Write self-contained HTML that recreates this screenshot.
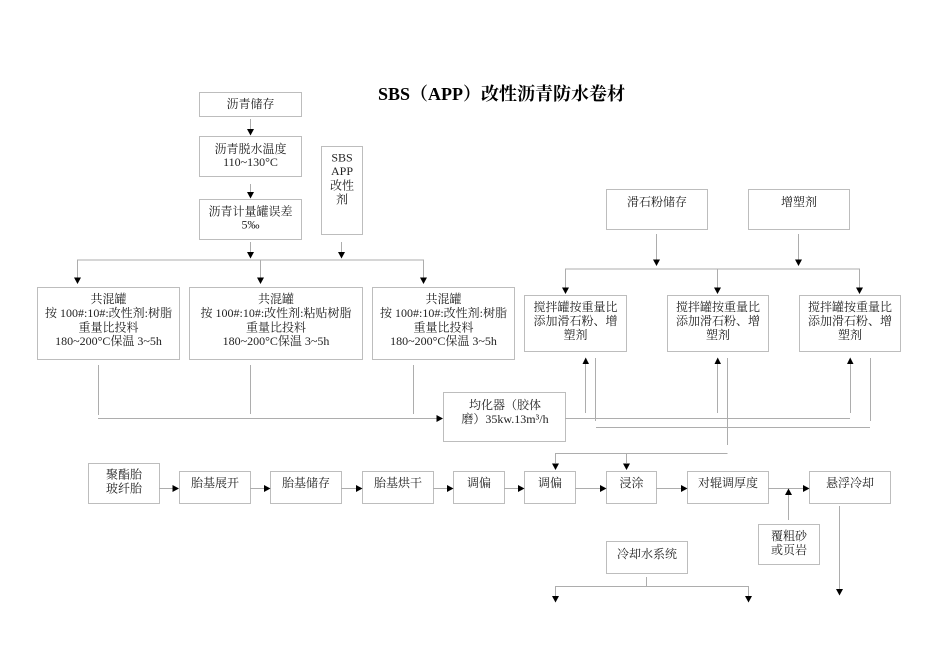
<!DOCTYPE html>
<html><head><meta charset="utf-8">
<style>
html,body{margin:0;padding:0;background:#fff;}
svg{display:block;}
text{font-family:"Liberation Serif","Noto Serif CJK SC",serif;font-size:12px;fill:#222;text-anchor:middle;}
.b{fill:#fff;stroke:#bdbdbd;stroke-width:1;}
.l{stroke:#adadad;stroke-width:1;fill:none;}
.a{fill:#000;stroke:none;}
</style></head><body>
<svg width="950" height="672" viewBox="0 0 950 672" xmlns="http://www.w3.org/2000/svg">
<rect width="950" height="672" fill="#fff"/>
<text x="501.5" y="100" style="font-size:18px;font-weight:bold;fill:#000">SBS（APP）改性沥青防水卷材</text>

<!-- boxes -->
<rect class="b" x="199.5" y="92.5" width="102" height="24"/>
<rect class="b" x="199.5" y="136.5" width="102" height="40"/>
<rect class="b" x="199.5" y="199.5" width="102" height="40"/>
<rect class="b" x="321.5" y="146.5" width="41" height="88"/>
<rect class="b" x="37.5" y="287.5" width="142" height="72"/>
<rect class="b" x="189.5" y="287.5" width="173" height="72"/>
<rect class="b" x="372.5" y="287.5" width="142" height="72"/>
<rect class="b" x="606.5" y="189.5" width="101" height="40"/>
<rect class="b" x="748.5" y="189.5" width="101" height="40"/>
<rect class="b" x="524.5" y="295.5" width="102" height="56"/>
<rect class="b" x="667.5" y="295.5" width="101" height="56"/>
<rect class="b" x="799.5" y="295.5" width="101" height="56"/>
<rect class="b" x="443.5" y="392.5" width="122" height="49"/>
<rect class="b" x="88.5" y="463.5" width="71" height="40"/>
<rect class="b" x="179.5" y="471.5" width="71" height="32"/>
<rect class="b" x="270.5" y="471.5" width="71" height="32"/>
<rect class="b" x="362.5" y="471.5" width="71" height="32"/>
<rect class="b" x="453.5" y="471.5" width="51" height="32"/>
<rect class="b" x="524.5" y="471.5" width="51" height="32"/>
<rect class="b" x="606.5" y="471.5" width="50" height="32"/>
<rect class="b" x="687.5" y="471.5" width="81" height="32"/>
<rect class="b" x="809.5" y="471.5" width="81" height="32"/>
<rect class="b" x="758.5" y="524.5" width="61" height="40"/>
<rect class="b" x="606.5" y="541.5" width="81" height="32"/>

<!-- lines -->
<path class="l" d="M250.5 119V129M250.5 184V193M250.5 242V252M341.5 242V252
M77.5 278V260H423.5V278M260.5 260V278
M656.5 234V260M798.5 234V260
M565.5 288V269H859.5V288M717.5 269V288
M98.5 365V415M250.5 365V414M413.5 365V414
M98 418.5H437
M585.5 413V363M717.5 413V363M850.5 413V363
M595.5 358V421M727.5 358V445M870.5 358V421
M565 418.5H850M596 427.5H870
M555.5 463V453.5H727.5M626.5 453.5V463
M159 488.5H173M250 488.5H265M341 488.5H356M433 488.5H447M504 488.5H518M575 488.5H600M656 488.5H681M768 488.5H803
M788.5 520V495
M839.5 506V589
M646.5 577V586M555.5 596V586.5H748.5V596"/>

<!-- arrowheads -->
<g class="a">
<path d="M247 129H254L250.5 135.5Z"/>
<path d="M247 192H254L250.5 198.5Z"/>
<path d="M247 252H254L250.5 258.5Z"/>
<path d="M338 252H345L341.5 258.5Z"/>
<path d="M74 277.5H81L77.5 284Z"/>
<path d="M257 277.5H264L260.5 284Z"/>
<path d="M420 277.5H427L423.5 284Z"/>
<path d="M653 259.5H660L656.5 266Z"/>
<path d="M795 259.5H802L798.5 266Z"/>
<path d="M562 287.5H569L565.5 294Z"/>
<path d="M714 287.5H721L717.5 294Z"/>
<path d="M856 287.5H863L859.5 294Z"/>
<path d="M582.5 364H589L585.7 357.5Z"/>
<path d="M714.5 364H721L717.7 357.5Z"/>
<path d="M847 364H853.5L850.2 357.5Z"/>
<path d="M436.5 415L443 418.5L436.5 422Z"/>
<path d="M552 463.5H559L555.5 470Z"/>
<path d="M623 463.5H630L626.5 470Z"/>
<path d="M172.5 485L179 488.5L172.5 492Z"/>
<path d="M264 485L270.5 488.5L264 492Z"/>
<path d="M356 485L362.5 488.5L356 492Z"/>
<path d="M447 485L453.5 488.5L447 492Z"/>
<path d="M518 485L524.5 488.5L518 492Z"/>
<path d="M600 485L606.5 488.5L600 492Z"/>
<path d="M681 485L687.5 488.5L681 492Z"/>
<path d="M803 485L809.5 488.5L803 492Z"/>
<path d="M785 495H792L788.5 488.5Z"/>
<path d="M836 589H843L839.5 595.5Z"/>
<path d="M552 596H559L555.5 602.5Z"/>
<path d="M745 596H752L748.5 602.5Z"/>
</g>

<!-- labels -->
<text x="250.5" y="108">沥青储存</text>
<text x="250.5" y="153">沥青脱水温度</text>
<text x="250.5" y="166">110~130°C</text>
<text x="250.5" y="215.5">沥青计量罐误差</text>
<text x="250.5" y="228.5">5‰</text>
<text x="342" y="161.5">SBS</text>
<text x="342" y="175">APP</text>
<text x="342" y="189.5">改性</text>
<text x="342" y="203.5">剂</text>

<text x="108.5" y="303">共混罐</text>
<text x="108.5" y="317">按 100#:10#:改性剂:树脂</text>
<text x="108.5" y="331.5">重量比投料</text>
<text x="108.5" y="345">180~200°C保温 3~5h</text>
<text x="276" y="303">共混罐</text>
<text x="276" y="317">按 100#:10#:改性剂:粘贴树脂</text>
<text x="276" y="331.5">重量比投料</text>
<text x="276" y="345">180~200°C保温 3~5h</text>
<text x="443.5" y="303">共混罐</text>
<text x="443.5" y="317">按 100#:10#:改性剂:树脂</text>
<text x="443.5" y="331.5">重量比投料</text>
<text x="443.5" y="345">180~200°C保温 3~5h</text>

<text x="657" y="206">滑石粉储存</text>
<text x="799" y="206">增塑剂</text>
<text x="575.5" y="311">搅拌罐按重量比</text>
<text x="575.5" y="325">添加滑石粉、增</text>
<text x="575.5" y="339">塑剂</text>
<text x="718" y="311">搅拌罐按重量比</text>
<text x="718" y="325">添加滑石粉、增</text>
<text x="718" y="339">塑剂</text>
<text x="850" y="311">搅拌罐按重量比</text>
<text x="850" y="325">添加滑石粉、增</text>
<text x="850" y="339">塑剂</text>

<text x="505" y="409">均化器（胶体</text>
<text x="505" y="423">磨）35kw.13m³/h</text>

<text x="124" y="478.5">聚酯胎</text>
<text x="124" y="492.5">玻纤胎</text>
<text x="215" y="487">胎基展开</text>
<text x="306" y="487">胎基储存</text>
<text x="398" y="487">胎基烘干</text>
<text x="479" y="487">调偏</text>
<text x="550" y="487">调偏</text>
<text x="631.5" y="487">浸涂</text>
<text x="728" y="487">对辊调厚度</text>
<text x="850" y="487">悬浮冷却</text>
<text x="789" y="540">覆粗砂</text>
<text x="789" y="554">或页岩</text>
<text x="647" y="558">冷却水系统</text>
</svg>
</body></html>
